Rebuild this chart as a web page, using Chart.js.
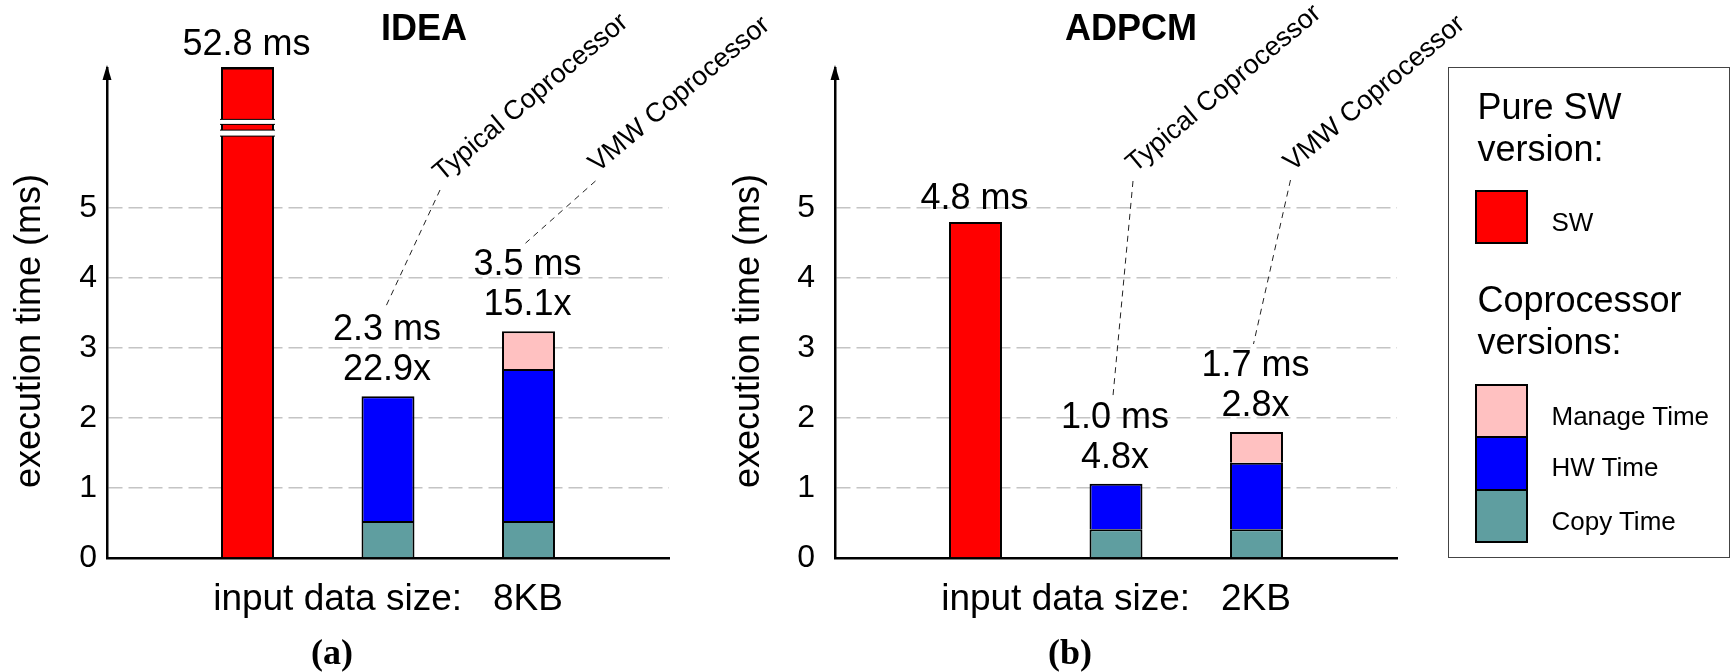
<!DOCTYPE html>
<html><head><meta charset="utf-8">
<script src="https://cdn.jsdelivr.net/npm/chart.js@4.4.1/dist/chart.umd.min.js"></script>
<style>
html,body{margin:0;padding:0;background:#fff;}
body{width:1732px;height:672px;position:relative;overflow:hidden;font-family:'Liberation Sans',Arial,sans-serif;}
#c1{position:absolute;left:0;top:0;}
#c2{position:absolute;left:620px;top:0;}
#legend{position:absolute;left:1448px;top:67px;width:282px;height:491px;border:1.5px solid #444;box-sizing:border-box;}
.lt{position:absolute;white-space:nowrap;color:#000;}
.big{font-size:36px;line-height:42px;}
.small{font-size:26px;line-height:30px;}
.sw{position:absolute;box-sizing:border-box;border:2px solid #000;width:53px;}
</style></head>
<body>
<canvas id="c1" width="800" height="672"></canvas>
<canvas id="c2" width="880" height="672"></canvas>
<div id="legend"></div>
<script>
// ---------- data ----------
const categories = ['', 'SW', 'Typical Coprocessor', 'VMW Coprocessor', ''];
const yTickValues = [0, 1, 2, 3, 4, 5];
const seriesNames = ['SW', 'Copy Time', 'HW Time', 'Manage Time'];

// IDEA (8KB)
const ideaSW      = [null, 52.8, null, null, null];
const ideaCopy    = [null, null, 0.53, 0.53, null];
const ideaHW      = [null, null, 1.78, 2.17, null];
const ideaManage  = [null, null, null, 0.54, null];
const ideaTime    = ['', '52.8 ms', '2.3 ms', '3.5 ms', ''];
const ideaSpeedup = ['', '', '22.9x', '15.1x', ''];

// ADPCM (2KB)
const adpcmSW      = [null, 4.8, null, null, null];
const adpcmCopy    = [null, null, 0.41, 0.41, null];
const adpcmHW      = [null, null, 0.65, 0.95, null];
const adpcmManage  = [null, null, null, 0.44, null];
const adpcmTime    = ['', '4.8 ms', '1.0 ms', '1.7 ms', ''];
const adpcmSpeedup = ['', '', '4.8x', '2.8x', ''];

// ---------- style ----------
const FAM = "'Liberation Sans', Arial, Helvetica, sans-serif";
const colors = { 'SW': '#ff0000', 'Copy Time': '#5f9ea0', 'HW Time': '#0000ff', 'Manage Time': '#ffc1c1' };
Chart.defaults.font.family = FAM;
Chart.defaults.color = '#000';

const annotPlugin = {
  id: 'annot',
  afterDatasetsDraw(chart, args, o) {
    const {ctx, chartArea: ca, scales: {x, y}} = chart;
    const ds = chart.data.datasets;
    const n = chart.data.labels.length;
    const tops = [];
    for (let i = 0; i < n; i++) {
      let tot = 0, any = false;
      ds.forEach(d => { const v = d.data[i]; if (v != null) { tot += v; any = true; } });
      tops[i] = any ? y.getPixelForValue(Math.min(tot, y.max)) : null;
    }
    ctx.save();
    // broken (out of range) bars
    const swMeta = chart.getDatasetMeta(0);
    ds[0].data.forEach((v, i) => {
      if (v == null || v <= y.max) return;
      const el = swMeta.data[i];
      const cx = el.x, w = el.width;
      ctx.fillStyle = '#000';
      ctx.fillRect(cx - w / 2, ca.top - 1, w, 2.5);
      o.breaks.forEach(b => {
        const py = y.getPixelForValue(b.v);
        ctx.fillStyle = '#000'; ctx.fillRect(cx - w / 2 - 1, py - b.h / 2 - 1, w + 2, b.h + 2);
        ctx.fillStyle = '#fff'; ctx.fillRect(cx - w / 2 - 1, py - b.h / 2, w + 2, b.h);
      });
    });
    // value labels
    ctx.fillStyle = '#000'; ctx.textAlign = 'center'; ctx.textBaseline = 'middle';
    ctx.font = '36px ' + FAM;
    for (let i = 0; i < n; i++) {
      if (tops[i] == null) continue;
      const cx = x.getPixelForValue(i) - 1;
      const t = o.time[i], s = o.speed[i];
      if (s) { ctx.fillText(t, cx, tops[i] - 66); ctx.fillText(s, cx, tops[i] - 26); }
      else if (t) { ctx.fillText(t, cx, tops[i] - 23); }
    }
    // rotated category labels with dashed leaders
    o.rot.forEach(r => {
      const cx = x.getPixelForValue(r.idx);
      const labelMid = tops[r.idx] - 66;
      const sx = cx + r.dx, sy = r.sy;
      ctx.save();
      ctx.setLineDash([6, 5]); ctx.lineWidth = 1; ctx.strokeStyle = '#222';
      ctx.beginPath(); ctx.moveTo(sx - 2, sy + 8); ctx.lineTo(cx - 3, labelMid - 22); ctx.stroke();
      ctx.restore();
      ctx.save();
      ctx.translate(sx, sy); ctx.rotate(-40 * Math.PI / 180);
      ctx.font = '27px ' + FAM; ctx.textAlign = 'left'; ctx.textBaseline = 'alphabetic'; ctx.fillStyle = '#000';
      ctx.fillText(categories[r.idx], 0, 0);
      ctx.restore();
    });
    const mid = (ca.left + ca.right) / 2;
    // title
    ctx.font = 'bold 36px ' + FAM; ctx.textAlign = 'center'; ctx.textBaseline = 'middle';
    ctx.fillText(o.title, mid + o.titleDx, 30);
    // y axis title
    ctx.save();
    ctx.translate(ca.left - o.yTitleOff, (ca.top + ca.bottom) / 2 + 18);
    ctx.rotate(-Math.PI / 2);
    ctx.font = '36px ' + FAM;
    ctx.fillText('execution time (ms)', 0, 0);
    ctx.restore();
    // caption
    ctx.font = "bold 36px 'Liberation Serif', 'Times New Roman', serif";
    ctx.fillText(o.caption, mid + o.capDx, 655);
    // arrow head on y axis
    ctx.beginPath();
    ctx.moveTo(ca.left, ca.top - 3);
    ctx.lineTo(ca.left - 4.5, ca.top + 12);
    ctx.lineTo(ca.left + 4.5, ca.top + 12);
    ctx.closePath(); ctx.fillStyle = '#000'; ctx.fill();
    ctx.restore();
  }
};

function makeChart(id, d, L) {
  const data = [d.sw, d.copy, d.hw, d.manage];
  const datasets = seriesNames.map((name, k) => ({
    label: name, data: data[k], backgroundColor: colors[name],
    borderColor: '#000', borderWidth: 2, borderSkipped: 'start',
    barPercentage: 0.377, categoryPercentage: 1, clip: 0
  }));
  return new Chart(document.getElementById(id), {
    type: 'bar',
    data: { labels: categories, datasets },
    options: {
      responsive: false, animation: false, devicePixelRatio: 1,
      layout: { padding: { left: L.padLeft, right: L.padRight, top: 68, bottom: 0 } },
      plugins: {
        legend: { display: false }, tooltip: { enabled: false }, title: { display: false },
        annot: { time: d.time, speed: d.speed, title: d.title, titleDx: L.titleDx, yTitleOff: L.yTitleOff,
                 caption: d.caption, capDx: L.capDx, rot: L.rot,
                 breaks: [{ v: 6.23, h: 4 }, { v: 6.07, h: 5 }] }
      },
      scales: {
        x: {
          stacked: true, offset: false,
          ticks: { display: false },
          grid: { display: true, color: 'transparent', drawTicks: false },
          border: { display: true, color: '#000', width: 2.5 },
          title: { display: true, text: d.xTitle, color: '#000', font: { size: 37, family: FAM }, padding: { top: 0, bottom: 50 } },
          afterFit(s) { s.height = 114; }
        },
        y: {
          stacked: true, min: 0, max: 7,
          ticks: { stepSize: 1, padding: L.tickPad, color: '#000', font: { size: 32, family: FAM },
                   callback: v => yTickValues.includes(v) ? String(v) : '' },
          grid: { color: c => (c.tick && c.tick.value >= 1 && c.tick.value <= 5) ? '#c4c4c4' : 'transparent',
                  lineWidth: 1.5, drawTicks: false },
          border: { display: true, color: '#000', width: 2.5, dash: [14, 6] },
          afterFit(s) { s.width = 107; }
        }
      }
    },
    plugins: [annotPlugin]
  });
}

makeChart('c1',
  { sw: ideaSW, copy: ideaCopy, hw: ideaHW, manage: ideaManage, time: ideaTime, speed: ideaSpeedup,
    title: 'IDEA', caption: '(a)', xTitle: 'input data size:   8KB' },
  { padLeft: 0, padRight: 131, tickPad: 10, titleDx: 36, yTitleOff: 76.5, capDx: -56,
    rot: [{ idx: 2, dx: 54, sy: 182 }, { idx: 3, dx: 69, sy: 173 }] });

makeChart('c2',
  { sw: adpcmSW, copy: adpcmCopy, hw: adpcmHW, manage: adpcmManage, time: adpcmTime, speed: adpcmSpeedup,
    title: 'ADPCM', caption: '(b)', xTitle: 'input data size:   2KB' },
  { padLeft: 108, padRight: 103, tickPad: 20, titleDx: 15, yTitleOff: 85.5, capDx: -46,
    rot: [{ idx: 2, dx: 19, sy: 173 }, { idx: 3, dx: 36, sy: 172 }] });

// ---------- legend ----------
(function () {
  const lg = document.getElementById('legend');
  const add = (html) => lg.insertAdjacentHTML('beforeend', html);
  add('<div class="lt big" style="left:28.5px;top:18px">Pure SW</div>');
  add('<div class="lt big" style="left:28.5px;top:60px">version:</div>');
  add('<div class="sw" style="left:25.5px;top:121.5px;height:54px;background:' + colors['SW'] + '"></div>');
  add('<div class="lt small" style="left:102.5px;top:138.5px">' + seriesNames[0] + '</div>');
  add('<div class="lt big" style="left:28.5px;top:211px">Coprocessor</div>');
  add('<div class="lt big" style="left:28.5px;top:253px">versions:</div>');
  const stack = [['Manage Time', 315.5, 332.5], ['HW Time', 368, 383.5], ['Copy Time', 420.5, 437.5]];
  stack.forEach(([name, sTop, tTop]) => {
    add('<div class="sw" style="left:25.5px;top:' + sTop + 'px;height:54.5px;background:' + colors[name] + '"></div>');
    add('<div class="lt small" style="left:102.5px;top:' + tTop + 'px">' + name + '</div>');
  });
})();
</script>
</body></html>
